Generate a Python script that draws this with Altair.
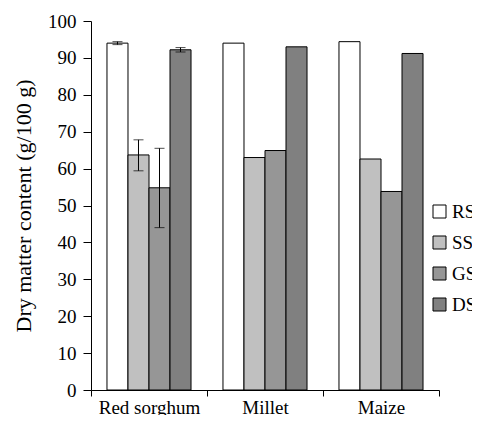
import altair as alt
import pandas as pd

crops = ["Red sorghum", "Millet", "Maize"]
series = ["RS", "SS", "GS", "DS"]
colors = ["#ffffff", "#c0c0c0", "#969696", "#808080"]

rs = [94.0, 94.0, 94.4]
ss = [63.7, 63.0, 62.6]
gs = [54.8, 64.9, 53.8]
ds = [92.2, 93.0, 91.2]

# error bars (Red sorghum only)
err_crop = ["Red sorghum", "Red sorghum", "Red sorghum", "Red sorghum"]
err_series = ["RS", "SS", "GS", "DS"]
err_lo = [93.6, 59.4, 44.0, 91.6]
err_hi = [94.4, 67.8, 65.5, 92.8]
y_ticks = [0, 10, 20, 30, 40, 50, 60, 70, 80, 90, 100]

vals = {"RS": rs, "SS": ss, "GS": gs, "DS": ds}
rows = []
for s in series:
    for c, v in zip(crops, vals[s]):
        rows.append({"crop": c, "series": s, "value": v})
df = pd.DataFrame(rows)
edf = pd.DataFrame({"crop": err_crop, "series": err_series, "lo": err_lo, "hi": err_hi})

FONT = "Liberation Serif"

x_axis = alt.Axis(
    tickBand="extent",
    labelAngle=0,
    labelFontSize=19,
    labelFont=FONT,
    labelColor="black",
    labelPadding=2,
    tickSize=6,
    tickColor="black",
    domainColor="black",
    grid=False,
)
y_axis = alt.Axis(
    values=y_ticks,
    grid=False,
    labelOverlap=False,
    labelFontSize=19,
    labelFont=FONT,
    labelColor="black",
    labelPadding=7,
    tickSize=8,
    tickColor="black",
    domainColor="black",
    titleFont=FONT,
    titleFontSize=22,
    titleFontWeight="normal",
    titleColor="black",
    titlePadding=12,
)
y_scale = alt.Scale(domain=[0, 100], nice=False)
x_scale = alt.Scale(paddingInner=0, paddingOuter=0)
YT = "Dry matter content (g/100 g)"

ex = alt.X("crop:N", sort=crops, title=None, scale=x_scale, axis=x_axis)
eo = alt.XOffset("series:N", sort=series, scale=alt.Scale(paddingInner=0, paddingOuter=0.76))

bars = alt.Chart(df).mark_bar(stroke="black", strokeWidth=1).encode(
    x=ex,
    xOffset=eo,
    y=alt.Y("value:Q", title=YT, scale=y_scale, axis=y_axis),
    color=alt.Color(
        "series:N",
        sort=series,
        scale=alt.Scale(domain=series, range=colors),
        legend=alt.Legend(
            title=None,
            orient="none",
            legendX=339,
            legendY=181,
            symbolType="square",
            symbolSize=169,
            symbolStrokeColor="black",
            symbolStrokeWidth=1,
            labelFont=FONT,
            labelFontSize=19,
            labelColor="black",
            labelOffset=3,
            rowPadding=11,
        ),
    ),
)

rules = alt.Chart(edf).mark_rule(color="black", strokeWidth=1).encode(
    x=ex, xOffset=eo, y=alt.Y("lo:Q", title=YT, scale=y_scale, axis=y_axis), y2="hi:Q",
)
caps_lo = alt.Chart(edf).mark_tick(color="black", size=10, thickness=1).encode(
    x=ex, xOffset=eo, y=alt.Y("lo:Q", title=YT, scale=y_scale, axis=y_axis),
)
caps_hi = alt.Chart(edf).mark_tick(color="black", size=10, thickness=1).encode(
    x=ex, xOffset=eo, y=alt.Y("hi:Q", title=YT, scale=y_scale, axis=y_axis),
)

chart = alt.layer(bars, rules, caps_lo, caps_hi).properties(
    width=348, height=369,
    background="white",
    autosize=alt.AutoSizeParams(type="none"),
    padding={"left": 83, "top": 13, "right": 33, "bottom": 25},
).configure_view(stroke=None)

chart.save("out.html", embed_options={"renderer": "svg", "actions": False})
